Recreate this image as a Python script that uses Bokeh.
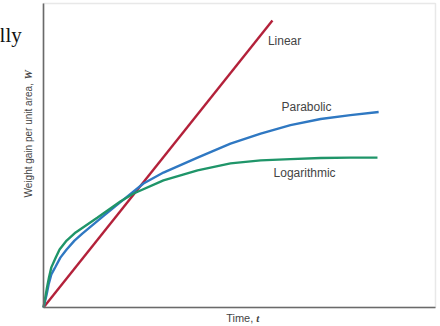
from bokeh.plotting import figure
from bokeh.models import Range1d, Label, BoxAnnotation, Arrow
from bokeh.embed import file_html
from bokeh.resources import INLINE
import math

# Data (time t, weight gain W; arbitrary units, axes span 0..10)
linear_t = [0.0, 5.84]
linear_w = [0.0, 9.44]

parabolic_t = [0.0, 0.08, 0.13, 0.20, 0.31, 0.43, 0.59, 0.79, 0.99, 1.51, 2.04, 2.55, 3.06, 3.93, 4.77, 5.54, 6.30, 7.07, 7.83, 8.55]
parabolic_w = [0.0, 0.43, 0.76, 1.09, 1.35, 1.64, 1.91, 2.20, 2.43, 2.99, 3.55, 4.08, 4.44, 4.93, 5.39, 5.72, 6.00, 6.20, 6.33, 6.43]

log_t = [0.0, 0.05, 0.09, 0.14, 0.20, 0.31, 0.41, 0.59, 0.82, 1.38, 1.96, 2.30, 3.06, 3.93, 4.77, 5.54, 6.30, 7.07, 7.83, 8.52]
log_w = [0.0, 0.36, 0.66, 0.99, 1.32, 1.64, 1.91, 2.20, 2.47, 2.96, 3.49, 3.75, 4.18, 4.51, 4.74, 4.84, 4.88, 4.92, 4.93, 4.93]

curve_names = ["Linear", "Parabolic", "Logarithmic"]
label_t = [6.15, 6.71, 6.66]
label_w = [8.78, 6.58, 4.41]

x_label = "Time, "
x_label_var = "t"
y_label = "Weight gain per unit area, "
y_label_var = "W"
corner_text = "lly"

axis_min, axis_max = 0.0, 10.0

# whole canvas is the plotting frame; the visible box spans 0..10 on both axes
p = figure(width=440, height=326, output_backend="svg", toolbar_location=None,
           x_range=Range1d(-1.097, 10.128), y_range=Range1d(-0.625, 10.099),
           min_border=0)
p.axis.visible = False
p.xgrid.visible = False
p.ygrid.visible = False
p.outline_line_color = None
p.background_fill_color = "white"
p.border_fill_color = "white"

# plot box
p.add_layout(BoxAnnotation(left=axis_min, right=axis_max, bottom=axis_min, top=axis_max,
                           fill_color=None, line_color="#b4b4b4", line_width=1.5))
p.add_layout(Arrow(end=None, x_start=axis_min, y_start=axis_min, x_end=axis_min, y_end=axis_max,
                   line_color="#6a6a6a", line_width=1.6))
p.add_layout(Arrow(end=None, x_start=axis_min, y_start=axis_min, x_end=axis_max, y_end=axis_min,
                   line_color="#6a6a6a", line_width=1.6))

p.line(linear_t, linear_w, line_color="#b3213a", line_width=2.4)
p.line(parabolic_t, parabolic_w, line_color="#2f78c2", line_width=2.4)
p.line(log_t, log_w, line_color="#1f9569", line_width=2.4)

for name, tx, wy in zip(curve_names, label_t, label_w):
    p.add_layout(Label(x=tx, y=wy, text=name, text_align="center", text_baseline="middle",
                       text_font="Liberation Sans", text_font_size="12px", text_color="#444444"))

# axis titles
p.add_layout(Label(x=-0.383, y=3.62, text=y_label, angle=math.pi / 2,
                   text_align="left", text_baseline="middle",
                   text_font="Liberation Sans", text_font_size="10px", text_color="#444444"))
p.add_layout(Label(x=-0.383, y=7.50, text=y_label_var, angle=math.pi / 2,
                   text_align="left", text_baseline="middle",
                   text_font="Liberation Serif", text_font_style="bold italic",
                   text_font_size="10.5px", text_color="#444444"))
p.add_layout(Label(x=5.43, y=-0.33, text=x_label, text_align="right", text_baseline="middle",
                   text_font="Liberation Sans", text_font_size="11px", text_color="#444444"))
p.add_layout(Label(x=5.43, y=-0.33, text=x_label_var, text_align="left", text_baseline="middle",
                   text_font="Liberation Serif", text_font_style="bold italic",
                   text_font_size="11px", text_color="#444444"))
p.add_layout(Label(x=-1.12, y=8.98, text=corner_text, text_align="left", text_baseline="alphabetic",
                   text_font="Liberation Serif", text_font_size="21px", text_color="#111111"))

open("out.html", "w").write(file_html(p, INLINE))
